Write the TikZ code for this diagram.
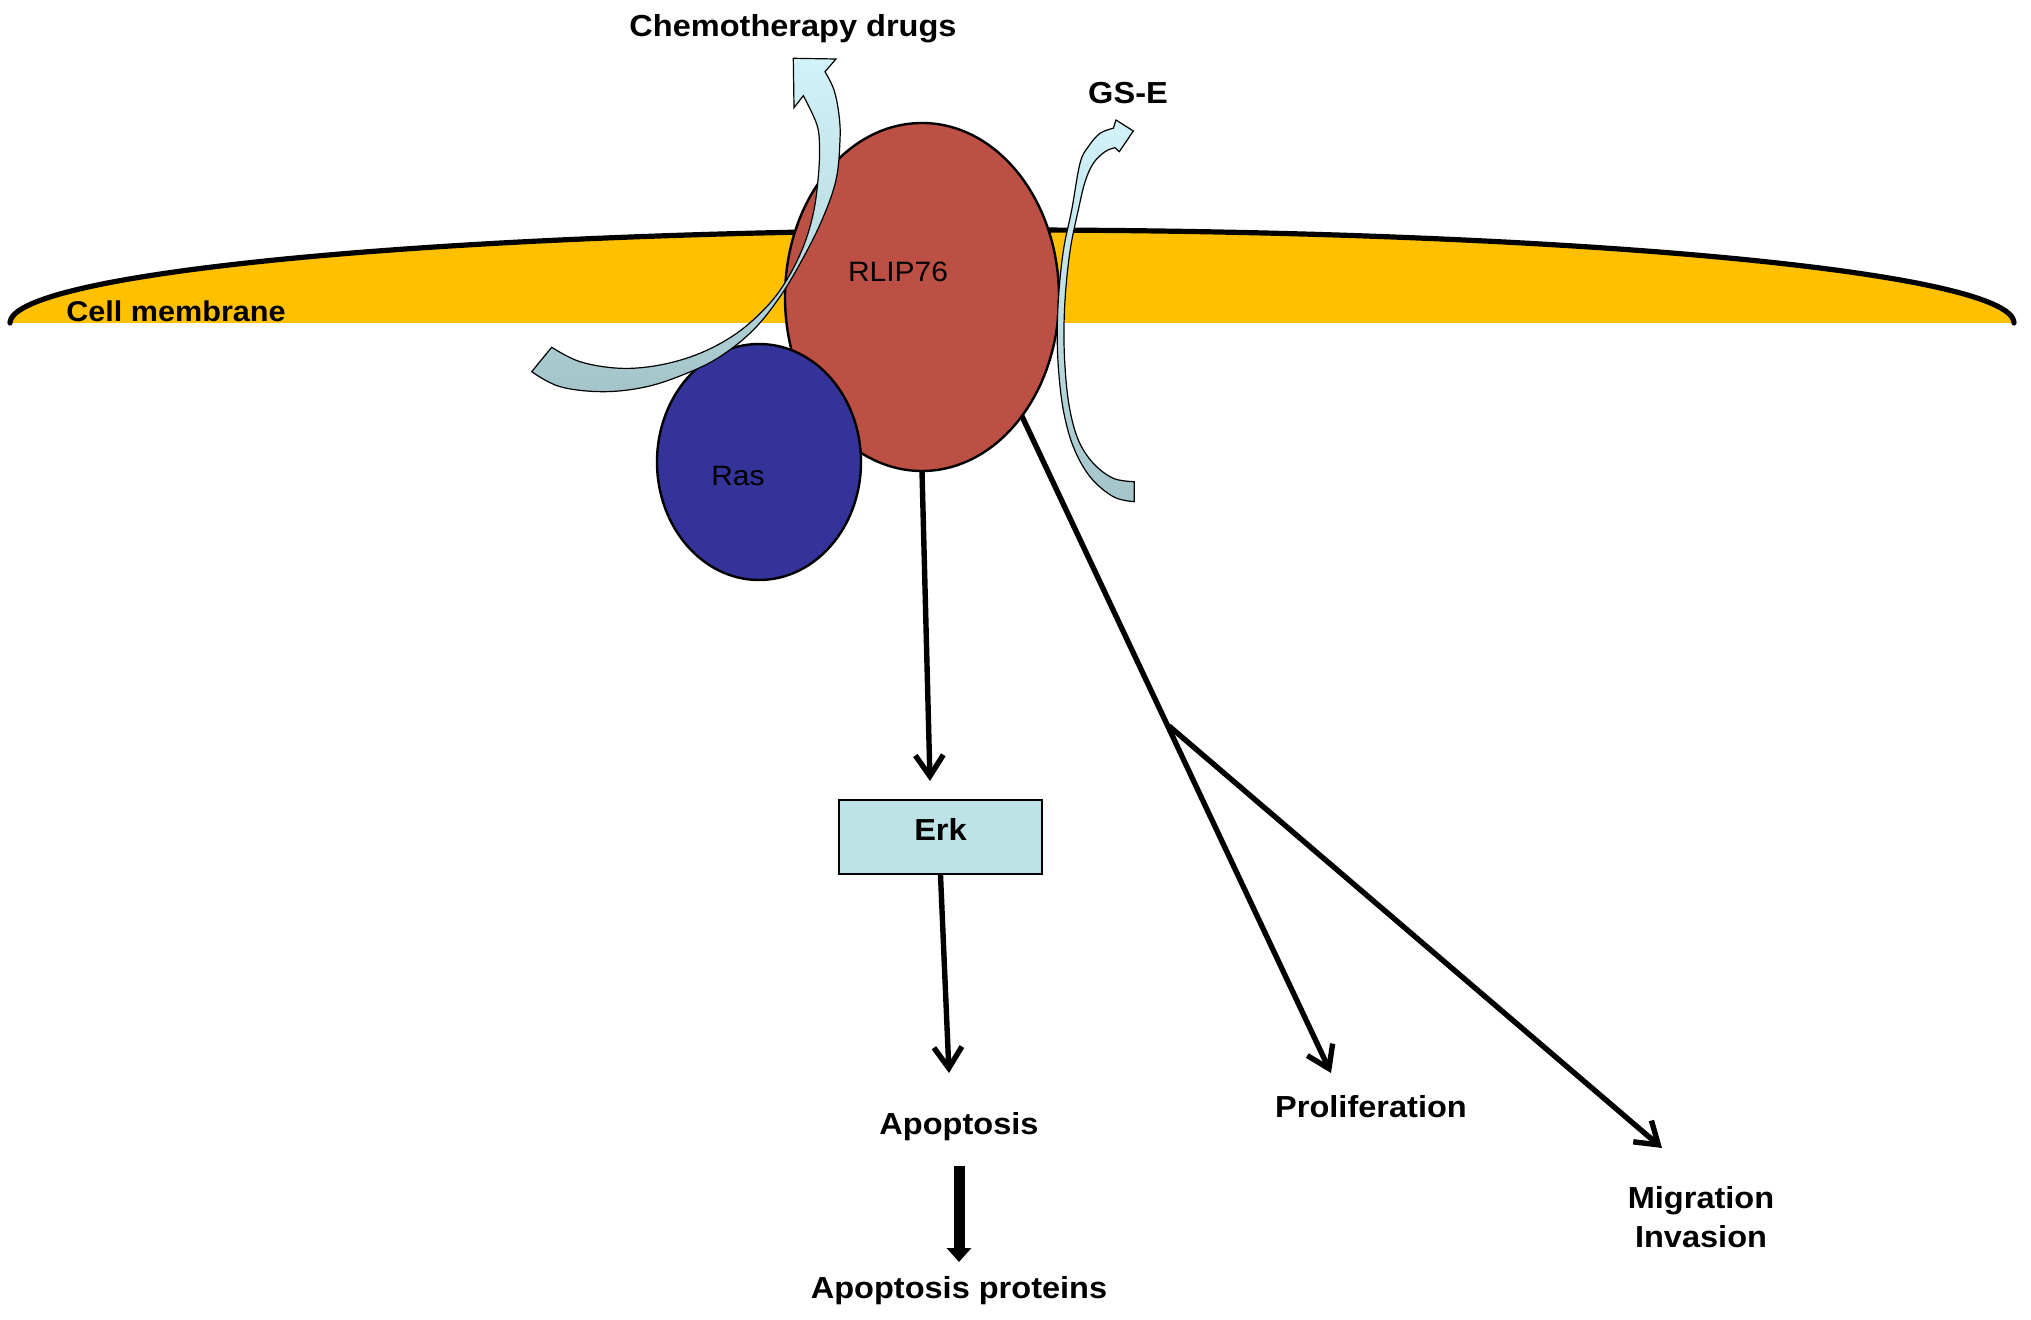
\documentclass[tikz,border=0pt]{standalone}
\usepackage{fontspec}
\setmainfont{Liberation Sans}[FakeStretch=1.07]
\usetikzlibrary{arrows.meta,shapes.geometric}
\definecolor{membyellow}{RGB}{255,192,0}
\definecolor{rlipred}{RGB}{188,80,68}
\definecolor{rasblue}{RGB}{51,51,153}
\definecolor{erkfill}{RGB}{189,227,231}
\definecolor{arrlight}{RGB}{208,242,248}
\definecolor{arrdark}{RGB}{163,196,201}
\begin{document}
\begin{tikzpicture}[x=0.5pt,y=-0.5pt,
  lab/.style={font=\fontsize{15.2}{18}\selectfont\bfseries, inner sep=0pt, anchor=base},
  rlab/.style={font=\fontsize{14}{17}\selectfont, inner sep=0pt, anchor=base},
  prot/.style={ellipse, draw=black, line width=1.2pt, inner sep=0pt, outer sep=0pt},
  arr/.style={line width=2.7pt, -{Straight Barb[length=10.5pt,width=14pt]}},
  bigarr/.style={line width=5.5pt, -{Triangle[length=7pt,width=12pt]}},
  swoosh/.style={draw=black, line width=0.6pt, top color=arrlight, bottom color=arrdark, middle color=arrlight!60!arrdark}
]
\useasboundingbox (0,0) rectangle (2031,1320);
% membrane
\fill[membyellow] plot[domain=180:360, samples=120] ({1012+1002*cos(\x)}, {323+93*sin(\x)}) -- cycle;
\draw[line width=2.6pt, line cap=round] plot[domain=180:360, samples=120] ({1012+1002*cos(\x)}, {323+93*sin(\x)});
\node[lab, font=\fontsize{14.3}{17}\selectfont\bfseries] (cellmem) at (176,322) {Cell membrane};
% proteins
\node[prot, fill=rlipred, minimum width=137pt, minimum height=174pt] (rlip) at (922,297) {};
\node[rlab] (rliptext) at (898,282) {RLIP76};
\node[prot, fill=rasblue, minimum width=102pt, minimum height=118pt] (ras) at (759,462) {};
\node[rlab] (rastext) at (738,486) {Ras};
% chemotherapy drug efflux arrow
\path[swoosh] (551.7,347.3) -- plot[smooth, tension=0.6] coordinates {(551.7,347.3) (580,361.7) (620,368.3) (660,365) (700,353.3) (736.7,333.3) (766.7,306.7) (786.7,280) (803.3,246.7) (813.3,213.3) (818,180) (819.5,150) (817,125) (803.3,95.7)}
  -- (794,107.7) -- (793.3,58.3) -- (836,59) -- (825,71.7)
  -- plot[smooth, tension=0.6] coordinates {(825,71.7) (834,90) (839,115) (840,140) (836,180) (822,220) (802,260) (780,296.7) (753.3,330) (720,356.7) (686.7,373.3) (646.7,386.7) (603.3,391.7) (560,386.7) (531.7,371.7)} -- cycle;
\node[lab] (chemo) at (793,37) {Chemotherapy drugs};
% GS-E efflux arrow
\path[swoosh] (1134.3,481.7) -- plot[smooth, tension=0.6] coordinates {(1134.3,481.7) (1113.3,478.3) (1093.3,463.3) (1078.3,440) (1069.3,406.7) (1065,366.7) (1064,326.7) (1066,286.7) (1070.7,246.7) (1078.3,210) (1085,182) (1093.3,163.3) (1105,151.7) (1115,147.7)}
  -- (1119.3,151.7) -- (1133.3,131) -- (1116,120) -- (1113.3,128.3)
  -- plot[smooth, tension=0.6] coordinates {(1113.3,128.3) (1100,133.3) (1088.3,146.7) (1080,163.3) (1071.7,210) (1064,246.7) (1059.3,286.7) (1057.3,326.7) (1058.3,366.7) (1063.3,410) (1073.3,446.7) (1090,476.7) (1113.3,496.7) (1134.3,501.7)} -- cycle;
\node[lab] (gse) at (1128,104) {GS-E};
% Erk
\node[draw=black, line width=1pt, fill=erkfill, minimum width=101.5pt, minimum height=37pt, inner sep=0pt,
  font=\fontsize{15.2}{18}\selectfont\bfseries, text height=10.9pt, text depth=6.9pt] (erk) at (940.5,837) {Erk};
% outcome labels
\node[lab] (apop) at (959,1134) {Apoptosis};
\node[lab] (approt) at (959,1298) {Apoptosis proteins};
\node[lab] (prolif) at (1371,1117) {Proliferation};
\node[lab] (migr) at (1701,1208) {Migration};
\node[lab] (inva) at (1701,1247) {Invasion};
% connector ends
\coordinate (erktip) at (930,781);
\coordinate (apoptip) at (949,1073);
\coordinate (bigstart) at (959,1166);
\coordinate (bigtip) at (959,1262);
\coordinate (proliftip) at (1331,1073);
\coordinate (branch) at (1169,726);
\coordinate (migrtip) at (1662,1148);
% connectors
\draw[arr] (rlip.south) -- (erktip);
\draw[arr] (erk.south) -- (apoptip);
\draw[bigarr] (bigstart) -- (bigtip);
\draw[arr] (rlip.-50) -- (proliftip);
\draw[arr] (branch) -- (migrtip);
\end{tikzpicture}
\end{document}
